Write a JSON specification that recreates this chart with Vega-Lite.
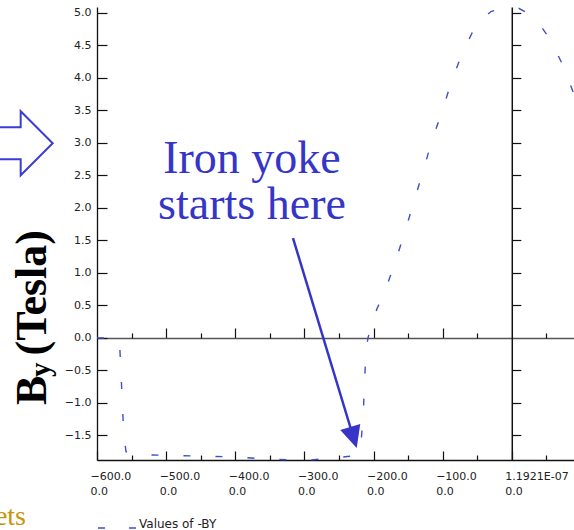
{
  "$schema": "https://vega.github.io/schema/vega-lite/v6.json",
  "width": 477,
  "height": 453,
  "autosize": {"type": "none"},
  "padding": {"left": 97, "top": 7, "right": 0, "bottom": 70},
  "background": "white",
  "config": {
    "view": {"stroke": null},
    "axis": {"grid": false, "labelFont": "DejaVu Sans", "labelFontSize": 11, "labelColor": "#222", "domainColor": "#111", "tickColor": "#111", "domainWidth": 1.3, "tickWidth": 1.2}
  },
  "datasets": {
    "by": [
      {"x": -600, "y": 0}, {"x": -590, "y": 0}, {"x": -572, "y": 0}, {"x": -567, "y": -0.15},
      {"x": -565, "y": -0.6}, {"x": -563, "y": -1.1}, {"x": -561, "y": -1.5}, {"x": -558, "y": -1.75},
      {"x": -550, "y": -1.79}, {"x": -520, "y": -1.8}, {"x": -480, "y": -1.81}, {"x": -440, "y": -1.82},
      {"x": -400, "y": -1.83}, {"x": -360, "y": -1.86}, {"x": -320, "y": -1.875}, {"x": -290, "y": -1.875},
      {"x": -260, "y": -1.85}, {"x": -235, "y": -1.82}, {"x": -222, "y": -1.78}, {"x": -218, "y": -1.6},
      {"x": -215, "y": -1.2}, {"x": -213, "y": -0.7}, {"x": -211, "y": -0.2}, {"x": -208, "y": 0.0},
      {"x": -203, "y": 0.2}, {"x": -195, "y": 0.45}, {"x": -185, "y": 0.68}, {"x": -170, "y": 1.12},
      {"x": -155, "y": 1.62}, {"x": -142, "y": 2.08}, {"x": -129, "y": 2.54}, {"x": -116, "y": 3.02},
      {"x": -101, "y": 3.48}, {"x": -87, "y": 3.95}, {"x": -71, "y": 4.4}, {"x": -50, "y": 4.85},
      {"x": -30, "y": 5.02}, {"x": -10, "y": 5.08}, {"x": 10, "y": 5.07}, {"x": 33, "y": 4.94},
      {"x": 58, "y": 4.55}, {"x": 77, "y": 4.12}, {"x": 95, "y": 3.6}
    ]
  },
  "resolve": {"axis": {"x": "independent", "y": "independent"}},
  "layer": [
    {
      "data": {"name": "by"},
      "mark": {"type": "line", "strokeDash": [7, 25], "strokeWidth": 1.4},
      "encoding": {
        "x": {
          "field": "x", "type": "quantitative",
          "scale": {"domain": [-600, 90], "nice": false, "zero": false},
          "axis": {
            "orient": "bottom", "title": null,
            "values": [-600, -500, -400, -300, -200, -100, 0],
            "tickSize": -9, "labelPadding": 19, "labelAlign": "left", "labelOffset": -7,
            "labelBaseline": "top", "labelLineHeight": 15.5, "labelFlush": false, "labelOverlap": false, "labelBound": false,
            "labelExpr": "datum.value == 0 ? ['1.1921E-07', '0.0'] : [format(datum.value, '.1f'), '0.0']"
          }
        },
        "y": {
          "field": "y", "type": "quantitative",
          "scale": {"domain": [-1.877, 5.09], "nice": false, "zero": false},
          "axis": {
            "orient": "left", "title": null,
            "values": [-1.5, -1, -0.5, 0, 0.5, 1, 1.5, 2, 2.5, 3, 3.5, 4, 4.5, 5],
            "format": ".1f", "tickSize": -10, "labelPadding": 16, "labelFlush": false, "labelOverlap": false
          }
        },
        "color": {
          "datum": "Values of -BY", "type": "nominal",
          "scale": {"range": ["#3f4fc7"]},
          "legend": {
            "orient": "none", "legendX": 0, "legendY": 501, "title": null, "padding": 0,
            "symbolType": "stroke", "symbolSize": 1444, "symbolDash": [7, 24], "symbolStrokeWidth": 1.5,
            "symbolStrokeColor": "#4a5ad0",
            "labelFont": "DejaVu Sans", "labelFontSize": 12, "labelColor": "#222",
            "labelBaseline": "alphabetic", "labelOffset": 2
          }
        }
      }
    },
    {
      "data": {"name": "by"},
      "mark": {"type": "line", "opacity": 0},
      "encoding": {
        "x": {"field": "x", "type": "quantitative",
          "axis": {"orient": "bottom", "title": null, "values": [-550, -450, -350, -250, -150, -50, 50], "tickSize": -5, "labels": false, "domain": false}},
        "y": {"field": "y", "type": "quantitative",
          "axis": {"orient": "right", "title": null, "offset": {"expr": "scale('x', 0) - width"},
            "values": [-1.5, -1, -0.5, 0.5, 1, 1.5, 2, 2.5, 3, 3.5, 4, 4.5, 5], "tickSize": 9, "labels": false, "domain": true, "domainWidth": 1.5}}
      }
    },
    {
      "data": {"name": "by"},
      "mark": {"type": "line", "opacity": 0},
      "encoding": {
        "x": {"field": "x", "type": "quantitative",
          "axis": {"orient": "top", "title": null, "offset": {"expr": "-scale('y', 0)"},
            "values": [-500, -400, -300, -200, -100], "tickSize": 10, "labels": false, "domain": true, "domainColor": "#555", "domainWidth": 1.6}},
        "y": {"field": "y", "type": "quantitative", "axis": null}
      }
    },
    {
      "data": {"name": "by"},
      "mark": {"type": "line", "opacity": 0},
      "encoding": {
        "x": {"field": "x", "type": "quantitative",
          "axis": {"orient": "top", "title": null, "offset": {"expr": "-scale('y', 0)"},
            "values": [-550, -450, -350, -250, -150, -50, 50], "tickSize": 5, "labels": false, "domain": false}},
        "y": {"field": "y", "type": "quantitative", "axis": null}
      }
    },
    {
      "data": {"values": [{}]},
      "mark": {"type": "text", "text": ["Iron yoke", "starts here"], "font": "Liberation Serif", "fontSize": 46, "color": "#3535c8", "align": "center", "baseline": "alphabetic", "lineHeight": 46},
      "encoding": {
        "x": {"datum": -375.8, "type": "quantitative", "axis": null},
        "y": {"datum": 2.538, "type": "quantitative", "axis": null}
      }
    },
    {
      "data": {"values": [{}]},
      "mark": {"type": "rule", "color": "#3535c8", "strokeWidth": 2.5},
      "encoding": {
        "x": {"datum": -316.5, "type": "quantitative", "axis": null},
        "y": {"datum": 1.537, "type": "quantitative", "axis": null},
        "x2": {"datum": -229.0},
        "y2": {"datum": -1.531}
      }
    },
    {
      "data": {"values": [{}]},
      "mark": {"type": "point", "shape": "M0,1L-0.95,-1L0.95,-1Z", "size": 484, "filled": true, "color": "#3535c8", "opacity": 1, "angle": 343},
      "encoding": {
        "x": {"datum": -229.0, "type": "quantitative", "axis": null},
        "y": {"datum": -1.531, "type": "quantitative", "axis": null}
      }
    },
    {
      "data": {"values": [{}]},
      "mark": {"type": "point", "shape": "M-1,-0.5L0,-0.5L0,-1L1,0L0,1L0,0.5L-1,0.5", "size": 4096, "filled": false, "color": "#3b3bd6", "strokeWidth": 2, "opacity": 1},
      "encoding": {
        "x": {"datum": -710.4, "type": "quantitative", "axis": null},
        "y": {"datum": 2.995, "type": "quantitative", "axis": null}
      }
    },
    {
      "data": {"values": [{}]},
      "mark": {"type": "text", "text": "B", "font": "Liberation Serif", "fontWeight": "bold", "fontSize": 44, "color": "#000", "angle": 270, "align": "left", "baseline": "alphabetic"},
      "encoding": {
        "x": {"datum": -673.1, "type": "quantitative", "axis": null},
        "y": {"datum": -1.031, "type": "quantitative", "axis": null}
      }
    },
    {
      "data": {"values": [{}]},
      "mark": {"type": "text", "text": "y", "font": "Liberation Serif", "fontWeight": "bold", "fontSize": 29, "color": "#000", "angle": 270, "align": "left", "baseline": "alphabetic"},
      "encoding": {
        "x": {"datum": -668.0, "type": "quantitative", "axis": null},
        "y": {"datum": -0.6, "type": "quantitative", "axis": null}
      }
    },
    {
      "data": {"values": [{}]},
      "mark": {"type": "text", "text": "(Tesla)", "font": "Liberation Serif", "fontWeight": "bold", "fontSize": 44, "color": "#000", "angle": 270, "align": "left", "baseline": "alphabetic"},
      "encoding": {
        "x": {"datum": -673.1, "type": "quantitative", "axis": null},
        "y": {"datum": -0.27, "type": "quantitative", "axis": null}
      }
    },
    {
      "data": {"values": [{}]},
      "mark": {"type": "text", "text": "ets", "font": "Liberation Serif", "fontSize": 28, "color": "#c8940a", "align": "right", "baseline": "alphabetic"},
      "encoding": {
        "x": {"datum": -702.7, "type": "quantitative", "axis": null},
        "y": {"datum": -2.877, "type": "quantitative", "axis": null}
      }
    }
  ]
}
